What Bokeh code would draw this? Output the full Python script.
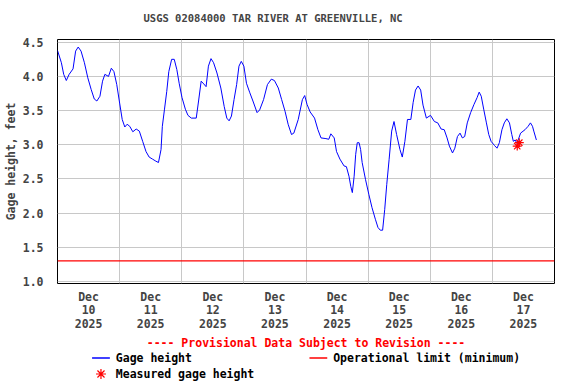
from bokeh.plotting import figure
from bokeh.models import Range1d, FixedTicker, PrintfTickFormatter
from bokeh.core.properties import value
from bokeh.layouts import column
from bokeh.embed import file_html
from bokeh.resources import INLINE

TITLE = "USGS 02084000 TAR RIVER AT GREENVILLE, NC"
Y_LABEL = "Gage height, feet"
PROVISIONAL = "---- Provisional Data Subject to Revision ----"
LEGEND_LABELS = ["Gage height", "Measured gage height", "Operational limit (minimum)"]

# hours since Dec 10 2025 00:00
HOURS = [0.0, 1.5, 2.4, 3.4, 4.5, 6.0, 7.0, 8.0, 9.1, 10.4, 11.7, 13.0, 14.2, 15.2, 16.4,
         17.4, 18.3, 19.7, 20.8, 21.8, 22.9, 24.0, 25.0, 26.0, 26.9, 27.9, 29.1, 30.4,
         31.6, 32.9, 34.2, 35.4, 36.7, 38.0, 39.0, 40.0, 40.5, 41.3, 42.2, 43.0, 44.1,
         45.1, 46.1, 47.0, 48.1, 49.4, 50.4, 51.7, 53.6, 54.5, 55.5, 56.5, 57.4, 58.3,
         59.3, 60.3, 61.6, 63.1, 64.4, 65.4, 66.3, 67.2, 68.2, 69.2, 70.1, 71.0, 72.0,
         73.0, 74.3, 75.5, 77.1, 78.1, 79.6, 81.1, 82.6, 83.8, 85.3, 86.6, 87.9, 89.1,
         90.4, 91.3, 93.0, 94.6, 95.5, 96.4, 97.6, 99.3, 100.6, 101.8, 103.7, 104.8,
         105.6, 106.9, 107.8, 109.1, 110.7, 111.6, 112.6, 113.3, 113.9, 114.6, 115.2,
         115.8, 116.5, 117.1, 117.7, 119.0, 120.3, 121.5, 122.8, 123.8, 124.7, 125.6,
         126.4, 127.2, 128.1, 129.1, 130.0, 131.0, 132.3, 133.2, 134.2, 135.2, 136.5,
         137.4, 138.3, 139.3, 140.3, 141.2, 142.5, 144.1, 145.6, 146.9, 148.2, 149.4,
         150.5, 151.4, 152.6, 153.5, 154.5, 155.5, 156.4, 157.3, 158.3, 159.6, 160.9,
         162.1, 162.9, 163.7, 164.7, 165.7, 166.6, 167.5, 168.8, 169.8, 170.7, 171.7,
         172.6, 173.6, 174.6, 175.5, 176.1, 176.8, 177.5, 178.9, 180.6, 181.8, 182.7,
         183.5, 184.0, 185.0]
GAGE = [4.38, 4.20, 4.03, 3.94, 4.03, 4.11, 4.37, 4.43, 4.37, 4.20, 3.98, 3.81, 3.67, 3.64,
        3.71, 3.93, 4.03, 4.00, 4.12, 4.07, 3.88, 3.61, 3.37, 3.26, 3.30, 3.27, 3.19, 3.23,
        3.20, 3.05, 2.90, 2.82, 2.79, 2.76, 2.74, 2.93, 3.27, 3.51, 3.78, 4.07, 4.25,
        4.25, 4.10, 3.90, 3.69, 3.52, 3.43, 3.39, 3.39, 3.64, 3.93, 3.89, 3.85, 4.15,
        4.26, 4.20, 4.05, 3.83, 3.56, 3.39, 3.35, 3.42, 3.66, 3.88, 4.15, 4.22, 4.15,
        3.90, 3.76, 3.64, 3.47, 3.51, 3.66, 3.88, 3.96, 3.94, 3.83, 3.66, 3.49, 3.30,
        3.15, 3.17, 3.37, 3.66, 3.72, 3.59, 3.48, 3.39, 3.22, 3.10, 3.09, 3.08,
        3.16, 3.10, 2.90, 2.79, 2.69, 2.68, 2.54, 2.39, 2.30, 2.54, 2.86,
        3.03, 3.03, 2.93, 2.74, 2.49, 2.27, 2.08, 1.91, 1.79, 1.75, 1.75,
        2.05, 2.42, 2.78, 3.20, 3.34, 3.15, 2.93, 2.82, 3.05, 3.37, 3.37,
        3.62, 3.80, 3.86, 3.80, 3.58, 3.39, 3.43, 3.34, 3.32, 3.23, 3.22,
        3.10, 2.98, 2.88, 2.95, 3.12, 3.17, 3.10, 3.12, 3.32, 3.47, 3.59,
        3.69, 3.77, 3.71, 3.51, 3.32, 3.15, 3.05, 2.99, 2.95, 3.03, 3.22,
        3.32, 3.38, 3.32, 3.15, 3.05, 3.07, 3.02, 3.17, 3.22, 3.27, 3.32,
        3.27, 3.20, 3.07]
MEAS_HOURS = [177.6, 178.4]
MEAS_GAGE = [2.98, 3.03]
OP_LIMIT = 1.3

X_START, X_END = 0, 192
Y_START, Y_END = 0.97, 4.54
DAY_TICKS = [12, 36, 60, 84, 108, 132, 156, 180]
DAY_LABELS = ["Dec\n10\n2025", "Dec\n11\n2025", "Dec\n12\n2025", "Dec\n13\n2025",
              "Dec\n14\n2025", "Dec\n15\n2025", "Dec\n16\n2025", "Dec\n17\n2025"]
GRID_X = [24, 48, 72, 96, 120, 144, 168]
Y_TICKS = [1.0, 1.5, 2.0, 2.5, 3.0, 3.5, 4.0, 4.5]

FONT = "DejaVu Sans Mono"
FS = "11.5px"
BLUE = "#0000ff"
RED = "#ff0000"

# layout (page pixels)
W = 576
MAIN_H, LEG_H = 352, 32
FRAME_L, FRAME_R = 51, 554

# ---------------- main chart ----------------
p = figure(width=W, height=MAIN_H, output_backend="svg", toolbar_location=None,
           x_range=Range1d(X_START, X_END), y_range=Range1d(Y_START, Y_END),
           min_border_left=FRAME_L, min_border_right=W - FRAME_R,
           min_border_top=39, min_border_bottom=68)
p.background_fill_color = "white"
p.border_fill_color = "white"
p.outline_line_color = "black"
p.outline_line_width = 1

# a blank second line lifts the title text away from the frame
p.title.text = TITLE + "\n "
p.title.align = "left"
p.title.offset = 86
p.title.text_font = FONT
p.title.text_font_size = "10.5px"
p.title.text_font_style = "bold"
p.title.standoff = 8

xa = p.xaxis[0]
xa.ticker = FixedTicker(ticks=DAY_TICKS)
xa.major_label_overrides = dict(zip(DAY_TICKS, DAY_LABELS))
xa.major_tick_line_color = None
xa.minor_tick_line_color = None
xa.axis_line_color = None
xa.major_label_standoff = 0
xa.major_label_text_font = FONT
xa.major_label_text_font_size = FS
xa.major_label_text_font_style = "bold"
xa.major_label_text_line_height = 0.97
xa.axis_label = PROVISIONAL
xa.axis_label_text_color = RED
xa.axis_label_text_font = FONT
xa.axis_label_text_font_size = FS
xa.axis_label_text_font_style = "bold"
xa.axis_label_standoff = 2

ya = p.yaxis[0]
ya.ticker = FixedTicker(ticks=Y_TICKS)
ya.formatter = PrintfTickFormatter(format="%.1f")
ya.major_tick_line_color = None
ya.minor_tick_line_color = None
ya.axis_line_color = None
ya.major_label_standoff = 8
ya.major_label_text_font = FONT
ya.major_label_text_font_size = FS
ya.major_label_text_font_style = "bold"
ya.axis_label = Y_LABEL
ya.axis_label_text_font = FONT
ya.axis_label_text_font_size = FS
ya.axis_label_text_font_style = "bold"
ya.axis_label_standoff = 2

p.xgrid.ticker = FixedTicker(ticks=GRID_X)
p.ygrid.ticker = FixedTicker(ticks=Y_TICKS)
p.grid.grid_line_color = "#c8c8c8"
p.grid.grid_line_width = 1

p.line([X_START, X_END], [OP_LIMIT, OP_LIMIT], line_color=RED, line_width=1.2)
p.line(HOURS, GAGE, line_color=BLUE, line_width=1)
p.scatter(MEAS_HOURS, MEAS_GAGE, marker="asterisk", size=9, line_color=RED, line_width=1.2)

# ---------------- legend strip (page-pixel space, frame aligned with main frame) ----------------
lg = figure(width=W, height=LEG_H, output_backend="svg", toolbar_location=None,
            x_range=Range1d(FRAME_L, FRAME_R), y_range=Range1d(LEG_H, 0),
            x_axis_type=None, y_axis_type=None, title=None,
            min_border_left=FRAME_L, min_border_right=W - FRAME_R,
            min_border_top=0, min_border_bottom=0)
lg.outline_line_color = None
lg.grid.visible = False
lg.background_fill_color = "white"
lg.border_fill_color = "white"

# swatch slots for each legend entry: left x and row y (page px within strip)
SLOT_X0 = [86, 86, 306]
SLOT_Y = [5.5, 21.5, 5.5]
SW = 18
lg.line(x=[SLOT_X0[0], SLOT_X0[0] + SW], y=[SLOT_Y[0], SLOT_Y[0]],
        line_color=BLUE, line_width=1.5)
lg.scatter(x=[SLOT_X0[1] + SW / 2], y=[SLOT_Y[1]], marker="asterisk", size=10,
           line_color=RED, line_width=1.2)
lg.line(x=[SLOT_X0[2], SLOT_X0[2] + SW], y=[SLOT_Y[2], SLOT_Y[2]],
        line_color=RED, line_width=1.5)
lg.text(x=[x + SW + 6 for x in SLOT_X0], y=SLOT_Y, text=LEGEND_LABELS,
        text_font=value(FONT), text_font_size=FS, text_font_style="bold",
        text_baseline="middle", text_align="left", text_color="black")

open("out.html", "w").write(file_html(column(p, lg, spacing=0), INLINE))
